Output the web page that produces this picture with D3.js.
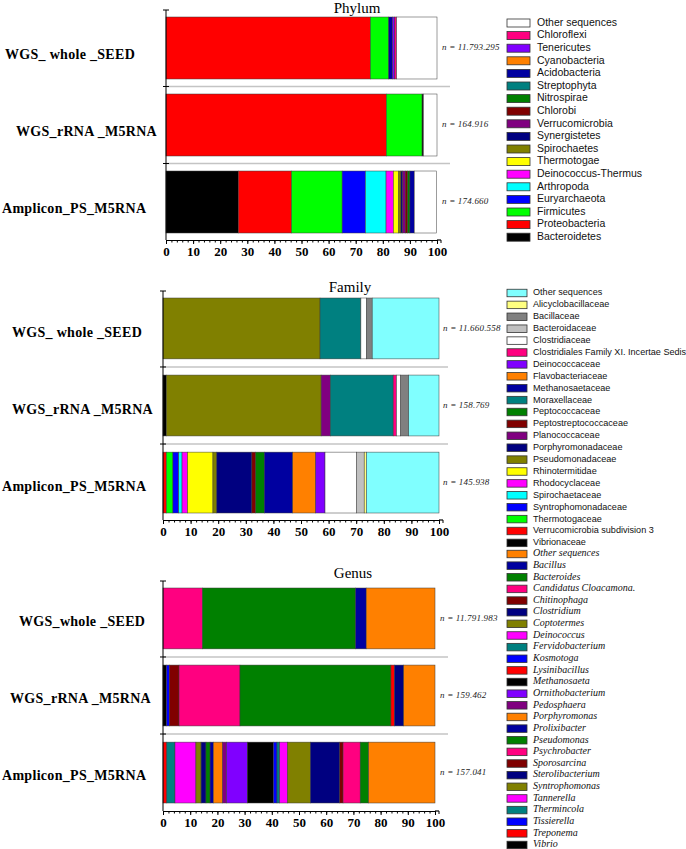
<!DOCTYPE html>
<html>
<head>
<meta charset="utf-8">
<script src="https://cdnjs.cloudflare.com/ajax/libs/d3/7.8.5/d3.min.js"></script>
<style>
  html, body { margin: 0; padding: 0; background: #fff; }
  svg { display: block; }
</style>
</head>
<body>
<svg id="chart" width="686" height="849"></svg>
<script>
// ---------------- DATA ----------------
const samplesA = ["WGS_ whole _SEED", "WGS_rRNA _M5RNA", "Amplicon_PS_M5RNA"];
const samplesGenus = ["WGS_whole _SEED", "WGS_rRNA _M5RNA", "Amplicon_PS_M5RNA"];

const phylumCounts = ["n = 11.793.295", "n = 164.916", "n = 174.660"];
const familyCounts = ["n = 11.660.558", "n = 158.769", "n = 145.938"];
const genusCounts  = ["n = 11.791.983", "n = 159.462", "n = 157.041"];

const xTickValues = [0, 10, 20, 30, 40, 50, 60, 70, 80, 90, 100];

// Phylum legend (top to bottom) and colours
const phylumTaxa = ["Other sequences", "Chloroflexi", "Tenericutes", "Cyanobacteria", "Acidobacteria",
  "Streptophyta", "Nitrospirae", "Chlorobi", "Verrucomicrobia", "Synergistetes", "Spirochaetes",
  "Thermotogae", "Deinococcus-Thermus", "Arthropoda", "Euryarchaeota", "Firmicutes", "Proteobacteria", "Bacteroidetes"];
const phylumColors = ["#ffffff", "#ff0080", "#8000ff", "#ff8000", "#0000a0",
  "#008080", "#008000", "#800000", "#800080", "#000080", "#808000",
  "#ffff00", "#ff00ff", "#00ffff", "#0000ff", "#00ff00", "#ff0000", "#000000"];

// Phylum segments (percent), in stacking order left to right
const phylumWholeSeed = [["Proteobacteria", 75.4], ["Firmicutes", 6.8], ["Acidobacteria", 1.4],
  ["Tenericutes", 0.8], ["Chloroflexi", 0.7], ["Other sequences", 14.9]];
const phylumRRNA = [["Proteobacteria", 81.3], ["Firmicutes", 13.2], ["Bacteroidetes", 0.5], ["Other sequences", 5.0]];
const phylumAmplicon = [["Bacteroidetes", 26.7], ["Proteobacteria", 19.6], ["Firmicutes", 18.7],
  ["Euryarchaeota", 8.6], ["Arthropoda", 7.6], ["Deinococcus-Thermus", 2.7], ["Thermotogae", 2.0],
  ["Spirochaetes", 0.8], ["Synergistetes", 0.6], ["Verrucomicrobia", 1.0], ["Chlorobi", 0.9],
  ["Nitrospirae", 0.8], ["Acidobacteria", 1.6], ["Other sequences", 8.2]];

// Family legend and colours
const familyTaxa = ["Other sequences", "Alicyclobacillaceae", "Bacillaceae", "Bacteroidaceae", "Clostridiaceae",
  "Clostridiales Family XI. Incertae Sedis", "Deinococcaceae", "Flavobacteriaceae", "Methanosaetaceae",
  "Moraxellaceae", "Peptococcaceae", "Peptostreptococcaceae", "Planococcaceae", "Porphyromonadaceae",
  "Pseudomonadaceae", "Rhinotermitidae", "Rhodocyclaceae", "Spirochaetaceae", "Syntrophomonadaceae",
  "Thermotogaceae", "Verrucomicrobia subdivision 3", "Vibrionaceae"];
const familyColors = ["#80ffff", "#ffff80", "#808080", "#c0c0c0", "#ffffff",
  "#ff0080", "#8000ff", "#ff8000", "#0000a0",
  "#008080", "#008000", "#800000", "#800080", "#000080",
  "#808000", "#ffff00", "#ff00ff", "#00ffff", "#0000ff",
  "#00ff00", "#ff0000", "#000000"];

const familyWholeSeed = [["Pseudomonadaceae", 56.9], ["Moraxellaceae", 14.8], ["Clostridiaceae", 2.0],
  ["Bacillaceae", 2.1], ["Other sequences", 24.2]];
const familyRRNA = [["Vibrionaceae", 1.2], ["Pseudomonadaceae", 56.1], ["Planococcaceae", 3.3],
  ["Moraxellaceae", 22.8], ["Clostridiales Family XI. Incertae Sedis", 1.2], ["Clostridiaceae", 1.5],
  ["Bacillaceae", 2.9], ["Other sequences", 11.0]];
const familyAmplicon = [["Verrucomicrobia subdivision 3", 1.2], ["Thermotogaceae", 2.4],
  ["Syntrophomonadaceae", 2.1], ["Spirochaetaceae", 1.2], ["Rhodocyclaceae", 2.0], ["Rhinotermitidae", 9.2],
  ["Pseudomonadaceae", 1.4], ["Porphyromonadaceae", 12.7], ["Peptostreptococcaceae", 1.4],
  ["Peptococcaceae", 3.1], ["Methanosaetaceae", 10.3], ["Flavobacteriaceae", 8.3], ["Deinococcaceae", 3.4],
  ["Clostridiaceae", 11.4], ["Bacteroidaceae", 2.8], ["Alicyclobacillaceae", 0.8], ["Other sequences", 26.3]];

// Genus legend and colours
const genusTaxa = ["Other sequences", "Bacillus", "Bacteroides", "Candidatus Cloacamona.", "Chitinophaga",
  "Clostridium", "Coptotermes", "Deinococcus", "Fervidobacterium", "Kosmotoga", "Lysinibacillus",
  "Methanosaeta", "Ornithobacterium", "Pedosphaera", "Porphyromonas", "Prolixibacter", "Pseudomonas",
  "Psychrobacter", "Sporosarcina", "Sterolibacterium", "Syntrophomonas", "Tannerella", "Thermincola",
  "Tissierella", "Treponema", "Vibrio"];
const genusColors = ["#ff8000", "#0000a0", "#008000", "#ff0080", "#800000",
  "#000080", "#808000", "#ff00ff", "#008080", "#0000ff", "#ff0000",
  "#000000", "#8000ff", "#800080", "#ff8000", "#0000a0", "#008000",
  "#ff0080", "#800000", "#000080", "#808000", "#ff00ff", "#008080",
  "#0000ff", "#ff0000", "#000000"];

const genusWholeSeed = [["Candidatus Cloacamona.", 14.5], ["Bacteroides", 56.3], ["Bacillus", 3.9],
  ["Other sequences", 25.3]];
const genusRRNA = [["Vibrio", 1.3], ["Tissierella", 1.0], ["Sporosarcina", 3.6], ["Psychrobacter", 22.4],
  ["Pseudomonas", 55.5], ["Lysinibacillus", 1.3], ["Clostridium", 3.4], ["Other sequences", 11.5]];
const genusAmplicon = [["Treponema", 1.4], ["Thermincola", 3.0], ["Tannerella", 7.7], ["Syntrophomonas", 1.9],
  ["Sterolibacterium", 1.8], ["Pseudomonas", 1.5], ["Prolixibacter", 1.2], ["Porphyromonas", 3.4],
  ["Pedosphaera", 1.5], ["Ornithobacterium", 7.6], ["Methanosaeta", 9.6], ["Kosmotoga", 1.3],
  ["Fervidobacterium", 1.0], ["Deinococcus", 2.9], ["Coptotermes", 8.4], ["Clostridium", 10.8],
  ["Chitinophaga", 1.2], ["Candidatus Cloacamona.", 6.3], ["Bacteroides", 3.1], ["Other sequences", 24.4]];

// ---------------- DRAWING ----------------
const svg = d3.select("#chart");
const SERIF = "'Liberation Serif', 'Times New Roman', Times, serif";
const SANS = "'Liberation Sans', Arial, Helvetica, sans-serif";

function drawPanel(p) {
  const g = svg.append("g");
  const x = d3.scaleLinear().domain([0, 100]).range([p.x0, p.x1]);
  const y = d3.scaleBand().domain(p.samples).range([p.barTop, p.barBottom]).paddingInner(p.padInner).paddingOuter(0);
  const color = d3.scaleOrdinal().domain(p.taxa).range(p.colors);

  // title
  g.append("text").attr("x", p.titleX).attr("y", p.titleY)
    .attr("text-anchor", "middle")
    .style("font-family", SERIF).style("font-size", "15px").text(p.title);

  // separator lines
  const seps = p.samples.slice(0, -1).map((s) => y(s) + y.bandwidth() + (y.step() - y.bandwidth()) / 2);
  g.selectAll("line.sep").data(seps).join("line")
    .attr("x1", p.x0).attr("x2", p.sepEnd).attr("y1", d => d).attr("y2", d => d)
    .attr("stroke", "#c4c4c4").attr("stroke-width", 1.5);

  // bars
  p.samples.forEach((s, i) => {
    let acc = 0;
    const segs = p.rows[i].map(([taxon, v]) => {
      const seg = { taxon, start: acc, end: acc + v };
      acc += v;
      return seg;
    });
    g.append("g").selectAll("rect").data(segs).join("rect")
      .attr("x", d => x(d.start)).attr("width", d => Math.max(0, x(d.end) - x(d.start)))
      .attr("y", y(s)).attr("height", y.bandwidth())
      .attr("fill", d => color(d.taxon))
      .attr("stroke", "#3a3a3a").attr("stroke-width", 0.5);

    // sample label
    g.append("text").attr("x", p.labelX[i]).attr("y", y(s) + y.bandwidth() / 2 + p.labelDy)
      .attr("dominant-baseline", "middle")
      .style("font-family", SERIF).style("font-weight", "bold").style("font-size", "14px")
      .style("letter-spacing", "0.3px")
      .text(s);

    // n label
    g.append("text").attr("x", p.nX).attr("y", y(s) + y.bandwidth() / 2)
      .attr("dominant-baseline", "middle")
      .style("font-family", SERIF).style("font-style", "italic").style("font-size", "9px")
      .style("letter-spacing", "0.2px").attr("fill", "#222")
      .text(p.counts[i]);
  });

  // left axis line with small ticks
  g.append("line").attr("x1", p.x0).attr("x2", p.x0).attr("y1", p.axisTop).attr("y2", p.axisY)
    .attr("stroke", "#000").attr("stroke-width", 1);
  const lTicks = [p.axisTop].concat(seps);
  g.selectAll("line.lt").data(lTicks).join("line")
    .attr("x1", p.x0 - 3).attr("x2", p.x0 + 3).attr("y1", d => d).attr("y2", d => d)
    .attr("stroke", "#000").attr("stroke-width", 1);

  // bottom axis: minor ticks
  const minor = g.append("g").attr("transform", `translate(0,${p.axisY})`)
    .call(d3.axisBottom(x).tickValues(d3.range(0, 101, 2)).tickSize(2.5).tickSizeOuter(0).tickFormat(""));
  minor.select(".domain").attr("stroke", "#000").attr("stroke-width", 1.2);
  minor.selectAll(".tick line").attr("stroke", "#000");
  // major ticks with labels
  const major = g.append("g").attr("transform", `translate(0,${p.axisY})`)
    .call(d3.axisBottom(x).tickValues(xTickValues).tickSize(4).tickSizeOuter(0).tickPadding(3).tickFormat(d3.format("d")));
  major.select(".domain").remove();
  major.selectAll(".tick line").attr("stroke", "#000");
  major.selectAll(".tick text").style("font-family", SERIF).style("font-weight", "bold")
    .style("font-size", "13px").attr("fill", "#000");
  // end-of-axis mark
  g.append("line").attr("x1", p.x1).attr("x2", p.x1 + 4).attr("y1", p.axisY).attr("y2", p.axisY)
    .attr("stroke", "#000").attr("stroke-width", 1.2);
  g.append("line").attr("x1", p.x1 + 4).attr("x2", p.x1 + 4).attr("y1", p.axisY).attr("y2", p.axisY + 3)
    .attr("stroke", "#000").attr("stroke-width", 1);

  // legend
  const lg = g.append("g");
  const items = lg.selectAll("g").data(p.taxa).join("g")
    .attr("transform", (d, i) => `translate(${p.legX},${p.legY + i * p.legStep})`);
  items.append("rect").attr("x", 0).attr("y", -p.swH / 2).attr("width", p.swW).attr("height", p.swH)
    .attr("fill", d => color(d)).attr("stroke", "#333").attr("stroke-width", 0.8);
  items.append("text").attr("x", p.legTextX).attr("y", 0).attr("dominant-baseline", "middle")
    .style("font-family", p.legFont).style("font-style", p.legItalic ? "italic" : "normal")
    .style("font-size", p.legSize + "px").attr("fill", "#111")
    .text(d => d);
}

drawPanel({
  title: "Phylum", titleX: 357, titleY: 13,
  samples: samplesA, counts: phylumCounts, rows: [phylumWholeSeed, phylumRRNA, phylumAmplicon],
  taxa: phylumTaxa, colors: phylumColors,
  x0: 166, x1: 437, barTop: 17, barBottom: 233, padInner: 0.195,
  axisTop: 10, axisY: 240, sepEnd: 450,
  labelX: [5, 16, 2], labelDy: 8, nX: 442,
  legX: 507, legY: 23, legStep: 12.6, swW: 23, swH: 8, legTextX: 30,
  legFont: SANS, legItalic: false, legSize: 10.5
});

drawPanel({
  title: "Family", titleX: 350, titleY: 292,
  samples: samplesA, counts: familyCounts, rows: [familyWholeSeed, familyRRNA, familyAmplicon],
  taxa: familyTaxa, colors: familyColors,
  x0: 163, x1: 439, barTop: 298, barBottom: 513, padInner: 0.21,
  axisTop: 291, axisY: 520, sepEnd: 448,
  labelX: [12, 12, 2], labelDy: 5, nX: 443,
  legX: 507, legY: 293, legStep: 11.9, swW: 20, swH: 7.5, legTextX: 26,
  legFont: SANS, legItalic: false, legSize: 9.1
});

drawPanel({
  title: "Genus", titleX: 353, titleY: 578,
  samples: samplesGenus, counts: genusCounts, rows: [genusWholeSeed, genusRRNA, genusAmplicon],
  taxa: genusTaxa, colors: genusColors,
  x0: 163, x1: 435, barTop: 588, barBottom: 803, padInner: 0.21,
  axisTop: 581, axisY: 811, sepEnd: 448,
  labelX: [19, 10, 2], labelDy: 4, nX: 440,
  legX: 507, legY: 554, legStep: 11.64, swW: 20, swH: 7.5, legTextX: 26,
  legFont: SERIF, legItalic: true, legSize: 10
});
</script>
</body>
</html>
